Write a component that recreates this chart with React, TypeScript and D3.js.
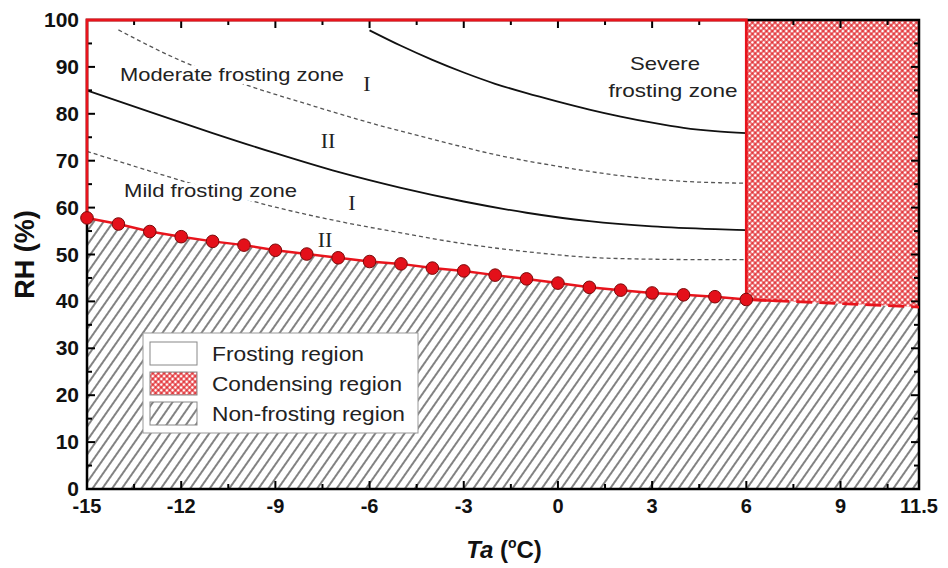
import * as d3 from "d3";

const W = 948;
const H = 568;
const M = { top: 20, right: 29, bottom: 79, left: 87 };

// boundary between frosting and non-frosting region (red dots)
const dotT = [-15, -14, -13, -12, -11, -10, -9, -8, -7, -6, -5, -4, -3, -2, -1, 0, 1, 2, 3, 4, 5, 6];
const dotRH = [57.8, 56.5, 54.9, 53.8, 52.8, 52.0, 50.9, 50.1, 49.3, 48.5, 48.0, 47.1, 46.5, 45.6, 44.8, 43.9, 43.0, 42.4, 41.8, 41.4, 41.0, 40.4];
// extension into condensing range
const extT = [6, 11.5];
const extRH = [40.4, 38.8];

// severe / moderate boundary (solid)
const severeT = [-6, -5, -4, -3, -2, -1, 0, 1, 2, 3, 4, 5, 6];
const severeRH = [97.8, 94.5, 91.5, 88.8, 86.4, 84.4, 82.6, 80.9, 79.4, 78.1, 77.0, 76.3, 75.9];
// moderate I / II (dashed)
const modT = [-14, -12, -10, -8, -6, -4, -2, 0, 2, 4, 6];
const modRH = [97.9, 91.3, 86.3, 82.1, 78.1, 74.6, 71.3, 68.8, 66.8, 65.6, 65.2];
// moderate / mild boundary (solid)
const midT = [-15, -13, -11, -9, -7, -5, -3, -1, 1, 3, 5, 6];
const midRH = [85, 80.4, 75.9, 71.6, 67.6, 64.2, 61.3, 58.9, 57.1, 56, 55.4, 55.2];
// mild I / II (dashed)
const mildT = [-15, -13, -11, -9, -7, -5, -3, -1, 1, 3, 5, 6];
const mildRH = [72, 67.8, 63.8, 60.1, 57.1, 54.6, 52.3, 50.6, 49.4, 49.0, 48.9, 48.9];

const xTickLabels = [-15, -12, -9, -6, -3, 0, 3, 6, 9, 11.5];
const yTickLabels = [0, 10, 20, 30, 40, 50, 60, 70, 80, 90, 100];
const legendItems = ["Frosting region", "Condensing region", "Non-frosting region"];
const legendWidths = [152, 190, 193];

const FONT = "Arial, 'Liberation Sans', sans-serif";

export default function App() {
  const x = d3.scaleLinear().domain([-15, 11.5]).range([M.left, W - M.right]);
  const y = d3.scaleLinear().domain([0, 100]).range([H - M.bottom, M.top]);

  const pts = (ts: number[], vs: number[]) => ts.map((t, i) => [t, vs[i]] as [number, number]);
  const curve = d3
    .line<[number, number]>()
    .x((d) => x(d[0]))
    .y((d) => y(d[1]))
    .curve(d3.curveMonotoneX);
  const straight = d3
    .line<[number, number]>()
    .x((d) => x(d[0]))
    .y((d) => y(d[1]));

  const boundary = pts(dotT, dotRH);
  const ext = pts(extT, extRH);

  // non-frosting area: below boundary + extension
  const nonFrost = straight([[-15, 0], ...boundary, ext[1], [11.5, 0]]) + "Z";
  const condensing = straight([[6, 100], ext[0], ext[1], [11.5, 100]]) + "Z";

  const x0 = x(-15), x1 = x(11.5), y0 = y(0), y1 = y(100);

  // ticks
  const xMajor = d3.range(-15, 11, 3);
  const xMinor = d3.range(-13.5, 11.5, 3);
  const yMajor = d3.range(0, 101, 10);
  const yMinor = d3.range(5, 100, 10);

  const legX = 143, legY = 333;

  return (
    <svg
      width={W}
      height={H}
      style={{ position: "absolute", left: 0, top: 0, background: "#fff" }}
      fontFamily={FONT}
    >
      <defs>
        <pattern id="hatch" width={8} height={8} patternUnits="userSpaceOnUse" patternTransform="rotate(35)">
          <line x1={4} y1={-1} x2={4} y2={9} stroke="#1a1a1a" strokeWidth={1.1} />
        </pattern>
        <pattern id="cross" width={4} height={4} patternUnits="userSpaceOnUse" patternTransform="rotate(45)">
          <rect width={4} height={4} fill="#e3353a" />
          <circle cx={2} cy={2} r={1.45} fill="#fff" />
        </pattern>
      </defs>

      {/* regions */}
      <rect x={x0} y={y1} width={x1 - x0} height={y0 - y1} fill="#fff" />
      <path d={nonFrost} fill="url(#hatch)" />
      <path d={condensing} fill="url(#cross)" />

      {/* zone curves */}
      <path d={curve(pts(severeT, severeRH)) ?? ""} fill="none" stroke="#111" strokeWidth={1.8} />
      <path d={curve(pts(midT, midRH)) ?? ""} fill="none" stroke="#111" strokeWidth={1.8} />
      <path d={curve(pts(modT, modRH)) ?? ""} fill="none" stroke="#555" strokeWidth={1.3} strokeDasharray="4,3" />
      <path d={curve(pts(mildT, mildRH)) ?? ""} fill="none" stroke="#555" strokeWidth={1.3} strokeDasharray="4,3" />

      {/* zone labels */}
      <g fontSize={19} fill="#222" stroke="#fff" strokeWidth={8} paintOrder="stroke" strokeLinejoin="round">
        <text x={120} y={81} textLength={224} lengthAdjust="spacingAndGlyphs">Moderate frosting zone</text>
        <text x={124} y={197} textLength={173} lengthAdjust="spacingAndGlyphs">Mild frosting zone</text>
        <text x={665} y={70} textAnchor="middle" strokeWidth={0} textLength={70} lengthAdjust="spacingAndGlyphs">Severe</text>
        <text x={673} y={97} textAnchor="middle" strokeWidth={0} textLength={129} lengthAdjust="spacingAndGlyphs">frosting zone</text>
      </g>
      <g fontFamily="'Liberation Serif', 'DejaVu Serif', serif" fontSize={22} fill="#222" textAnchor="middle">
        <text x={367} y={91}>I</text>
        <text x={328} y={148}>II</text>
        <text x={352} y={210}>I</text>
        <text x={325} y={247}>II</text>
      </g>

      {/* frame */}
      <rect x={x0} y={y1} width={x1 - x0} height={y0 - y1} fill="none" stroke="#000" strokeWidth={2.5} />

      {/* ticks */}
      <g stroke="#000" strokeWidth={2}>
        {xMajor.map((t) => (
          <g key={"xM" + t}>
            <line x1={x(t)} x2={x(t)} y1={y0} y2={y0 - 8} />
            <line x1={x(t)} x2={x(t)} y1={y1} y2={y1 + 8} />
          </g>
        ))}
        {xMinor.map((t) => (
          <g key={"xm" + t}>
            <line x1={x(t)} x2={x(t)} y1={y0} y2={y0 - 5} />
            <line x1={x(t)} x2={x(t)} y1={y1} y2={y1 + 5} />
          </g>
        ))}
        {yMajor.map((v) => (
          <g key={"yM" + v}>
            <line x1={x0} x2={x0 + 8} y1={y(v)} y2={y(v)} />
            <line x1={x1} x2={x1 - 8} y1={y(v)} y2={y(v)} />
          </g>
        ))}
        {yMinor.map((v) => (
          <g key={"ym" + v}>
            <line x1={x0} x2={x0 + 5} y1={y(v)} y2={y(v)} />
            <line x1={x1} x2={x1 - 5} y1={y(v)} y2={y(v)} />
          </g>
        ))}
      </g>

      {/* red frosting region outline */}
      <path
        d={straight([[-15, dotRH[0]], [-15, 100], [6, 100], [6, extRH[0]]]) ?? ""}
        fill="none"
        stroke="#e8141c"
        strokeWidth={2.8}
      />
      <path d={straight(boundary) ?? ""} fill="none" stroke="#e8141c" strokeWidth={2.5} />
      <path d={straight([ext[0], [7, extRH[0] - (extRH[0] - extRH[1]) / 5.5]]) ?? ""} fill="none" stroke="#e8141c" strokeWidth={2.5} />
      <path d={straight(ext) ?? ""} fill="none" stroke="#e8141c" strokeWidth={2.8} strokeDasharray="16,7" strokeDashoffset={-4} />
      {boundary.map((d, i) => (
        <circle key={i} cx={x(d[0])} cy={y(d[1])} r={6.3} fill="#e4101a" stroke="#7a0a0a" strokeWidth={1} />
      ))}

      {/* legend */}
      <rect x={legX} y={legY} width={275} height={100} fill="#fff" stroke="#999" strokeWidth={1} />
      {legendItems.map((name, i) => {
        const ry = legY + 9 + i * 30;
        const fill = i === 0 ? "#fff" : i === 1 ? "url(#cross)" : "url(#hatch)";
        return (
          <g key={name}>
            <rect x={legX + 7} y={ry} width={47} height={23} fill={fill} stroke="#888" strokeWidth={1} />
            <text
              x={legX + 69}
              y={ry + 19}
              fontSize={20}
              fill="#222"
              textLength={legendWidths[i]}
              lengthAdjust="spacingAndGlyphs"
            >
              {name}
            </text>
          </g>
        );
      })}

      {/* tick labels */}
      <g fontWeight="bold" fill="#111">
        {xTickLabels.map((t) => (
          <text key={t} x={x(t)} y={y0 + 24} textAnchor="middle" fontSize={20}>
            {t}
          </text>
        ))}
        {yTickLabels.map((v) => (
          <text key={v} x={x0 - 8} y={y(v) + 7} textAnchor="end" fontSize={21}>
            {v}
          </text>
        ))}
      </g>

      {/* axis titles */}
      <text x={504} y={558} textAnchor="middle" fontSize={24} fontWeight="bold" fill="#111">
        <tspan fontStyle="italic">Ta</tspan>
        <tspan> (</tspan>
        <tspan fontSize={14} dy={-10}>o</tspan>
        <tspan dy={10}>C)</tspan>
      </text>
      <text
        transform={`translate(34, ${(y0 + y1) / 2}) rotate(-90)`}
        textAnchor="middle"
        fontSize={27}
        fontWeight="bold"
        fill="#111"
      >
        RH (%)
      </text>
    </svg>
  );
}
